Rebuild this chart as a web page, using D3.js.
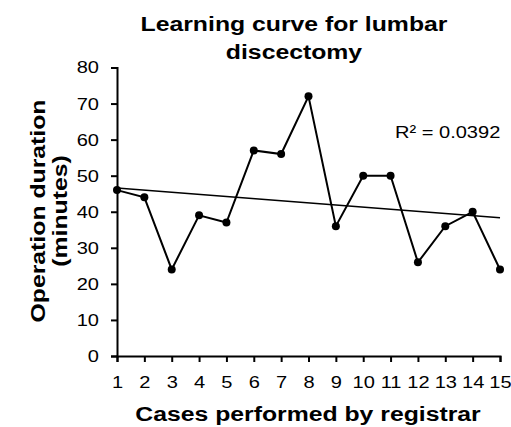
<!DOCTYPE html>
<html>
<head>
<meta charset="utf-8">
<script src="https://cdnjs.cloudflare.com/ajax/libs/d3/7.8.5/d3.min.js"></script>
<style>
  body { margin: 0; background: #fff; }
  svg text { font-family: "Liberation Sans", Arial, sans-serif; fill: #000; }
</style>
</head>
<body>
<svg width="511" height="427"></svg>
<script>
// ---- Data ----
const cases = [1, 2, 3, 4, 5, 6, 7, 8, 9, 10, 11, 12, 13, 14, 15];
const duration = [46, 44, 24, 39, 37, 57, 56, 72, 36, 50, 50, 26, 36, 40, 24];
const yTicks = [0, 10, 20, 30, 40, 50, 60, 70, 80];
const titleLines = ["Learning curve for lumbar", "discectomy"];
const yTitleLines = ["Operation duration", "(minutes)"];
const xTitle = "Cases performed by registrar";
const r2Label = "R\u00b2 = 0.0392";

// glyphs in the original are wider than Arial's, stretch along the text run
const sx = 1.18;

const svg = d3.select("svg");
const x = d3.scaleLinear().domain([1, 15]).range([117, 500]);
const y = d3.scaleLinear().domain([0, 80]).range([356, 67.5]);

// ---- Axes ----
const xAxis = svg.append("g")
    .attr("transform", `translate(0,${y(0)})`)
    .call(d3.axisBottom(x).tickValues(cases).tickSize(6).tickFormat(d3.format("d")));
const yAxis = svg.append("g")
    .attr("transform", `translate(${x(1)},0)`)
    .call(d3.axisLeft(y).tickValues(yTicks).tickSize(6));

[xAxis, yAxis].forEach(a => {
    a.select(".domain").attr("stroke", "#000").attr("stroke-width", 2);
    a.selectAll(".tick line").attr("stroke", "#000").attr("stroke-width", 2);
    a.selectAll("text")
        .attr("font-size", 17)
        .attr("font-family", null)
        .attr("fill", "#000");
});
xAxis.selectAll("text")
    .attr("y", 32).attr("dy", 0)
    .attr("transform", `scale(${sx},1)`);
yAxis.selectAll("text")
    .attr("x", -18 / sx)
    .attr("transform", `scale(${sx},1)`);

// ---- Linear trend line (least squares of the series) ----
const mx = d3.mean(cases), my = d3.mean(duration);
const slope = d3.sum(cases, (c, i) => (c - mx) * (duration[i] - my))
            / d3.sum(cases, c => (c - mx) ** 2);
const fit = c => my + slope * (c - mx);
svg.append("line")
    .attr("x1", x(1)).attr("y1", y(fit(1)))
    .attr("x2", x(15)).attr("y2", y(fit(15)))
    .attr("stroke", "#000")
    .attr("stroke-width", 1.5);

// ---- Series line and markers ----
const line = d3.line()
    .x((d, i) => x(cases[i]))
    .y(d => y(d));
svg.append("path")
    .datum(duration)
    .attr("d", line)
    .attr("fill", "none")
    .attr("stroke", "#000")
    .attr("stroke-width", 2);
svg.append("g")
    .selectAll("circle")
    .data(duration)
    .join("circle")
    .attr("cx", (d, i) => x(cases[i]))
    .attr("cy", d => y(d))
    .attr("r", 4)
    .attr("fill", "#000");

// ---- Texts ----
svg.append("g")
    .selectAll("text")
    .data(titleLines)
    .join("text")
    .attr("transform", (d, i) => `translate(294,${31 + i * 28}) scale(${sx},1)`)
    .attr("text-anchor", "middle")
    .attr("font-weight", "bold")
    .attr("font-size", 21)
    .text(d => d);

svg.append("text")
    .attr("transform", `translate(308,421) scale(${sx},1)`)
    .attr("text-anchor", "middle")
    .attr("font-weight", "bold")
    .attr("font-size", 21)
    .text(xTitle);

svg.append("g")
    .selectAll("text")
    .data(yTitleLines)
    .join("text")
    .attr("transform", (d, i) => `translate(${45 + i * 22},211) rotate(-90) scale(${sx},1)`)
    .attr("text-anchor", "middle")
    .attr("font-weight", "bold")
    .attr("font-size", 21)
    .text(d => d);

svg.append("text")
    .attr("transform", `translate(395,138) scale(${sx},1)`)
    .attr("font-size", 17)
    .text(r2Label);
</script>
</body>
</html>
